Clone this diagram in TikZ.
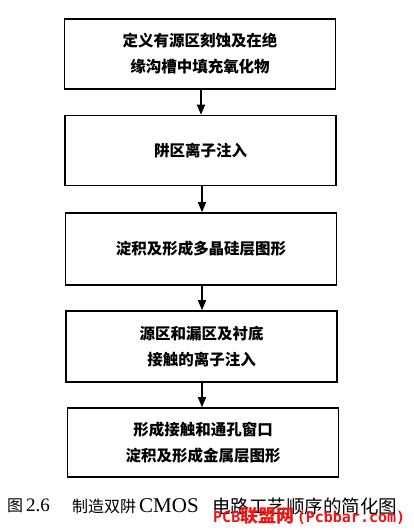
\documentclass[tikz,border=0pt]{standalone}
\usepackage{fontspec}
\setmainfont{Liberation Serif}
\newfontfamily\cjk{Noto Sans CJK SC}
\newfontfamily\wmmono{DejaVu Sans Mono}
\usetikzlibrary{arrows.meta}
\definecolor{wmred}{RGB}{240,20,20}
\tikzset{
  stepbox/.style={draw=black, line width=1.6pt, minimum width=271pt, minimum height=70pt,
    align=center, inner sep=0pt, font=\cjk\bfseries\fontsize{15.5}{26}\selectfont},
  flow/.style={line width=1.4pt, -{Triangle[length=10pt,width=8pt]}},
  captext/.style={inner sep=0pt, anchor=west, font=\cjk\fontsize{16}{18}\selectfont}
}
\begin{document}
\begin{tikzpicture}[x=1pt,y=-1pt]
\useasboundingbox (0,0) rectangle (414,531);
\node[stepbox] (b1) at (200,54) {定义有源区刻蚀及在绝\\缘沟槽中填充氧化物};
\node[stepbox] (b2) at (200.5,150.5) {阱区离子注入};
\node[stepbox, minimum height=72pt] (b3) at (201,249) {淀积及形成多晶硅层图形};
\node[stepbox, minimum height=71pt] (b4) at (201.5,346.5) {源区和漏区及衬底\\接触的离子注入};
\node[stepbox, minimum height=69pt] (b5) at (203,442.5) {形成接触和通孔窗口\\淀积及形成金属层图形};
\draw[flow] (b1.south -| 201,0) -- (b2.north -| 201,0);
\draw[flow] (b2.south -| 202,0) -- (b3.north -| 202,0);
\draw[flow] (b3.south -| 202,0) -- (b4.north -| 202,0);
\draw[flow] (b4.south -| 202,0) -- (b5.north -| 202,0);
\node[captext] (c1) at (7,506) {图\hspace{3pt}{\rmfamily\fontsize{19}{20}\selectfont 2.6}};
\node[captext] (c2) at (72,506) {制造双阱\hspace{3pt}{\rmfamily\fontsize{21}{22}\selectfont CMOS}};
\node[captext, font=\cjk\fontsize{18.5}{20}\selectfont] (c3) at (212,506) {电路工艺顺序的简化图};
\node[inner sep=0pt, anchor=west, text=wmred] (wm) at (213,516)
  {\wmmono\bfseries\fontsize{15}{17}\selectfont PCB{\cjk\fontsize{18}{19}\selectfont 联盟网}\,(Pcbbar.com)};
\end{tikzpicture}
\end{document}
